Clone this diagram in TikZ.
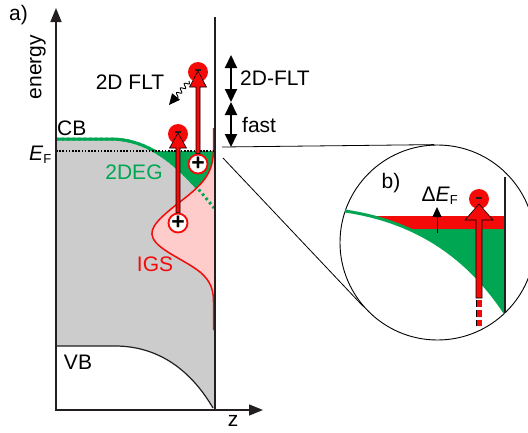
\documentclass[tikz,border=0pt]{standalone}
\usepackage{fontspec}
\setmainfont{Liberation Sans}
\usetikzlibrary{arrows.meta, calc, decorations.pathmorphing}

\definecolor{bandgray}{RGB}{204,204,204}
\definecolor{degreen}{RGB}{0,166,81}
\definecolor{igsred}{RGB}{245,10,10}
\definecolor{igspink}{RGB}{255,204,204}
\definecolor{axisgray}{RGB}{35,31,32}

% block arrow: style, from, to, half stem, half head, head length
\newcommand\exarrow[6]{%
  \draw[#1] let \p1=(#2), \p2=(#3) in
    (\x1-#4,\y1) -- (\x1-#4,\y2-#6) -- (\x1-#5,\y2-#6) -- (\x1,\y2)
    -- (\x1+#5,\y2-#6) -- (\x1+#4,\y2-#6) -- (\x1+#4,\y1) -- cycle;}

\begin{document}
\begin{tikzpicture}[x=1pt, y=-1pt,
  txt/.style={font=\fontsize{21}{24}\selectfont, inner sep=0pt},
  axis/.style={axisgray, line width=1.5pt,
               {Triangle[width=11pt,length=14pt]}-{Triangle[width=11pt,length=14pt]}},
  surf/.style={axisgray, line width=2.2pt},
  cbline/.style={degreen, line width=3pt},
  elec/.style={circle, fill=igsred, minimum size=20pt, inner sep=0pt},
  ebar/.style={fill=axisgray, minimum width=6.5pt, minimum height=1.8pt, inner sep=0pt},
  hole/.style={circle, draw=igsred, line width=1.8pt, fill=white,
               minimum size=19pt, inner sep=0pt,
               font=\fontsize{23}{23}\selectfont\bfseries},
  exc/.style={fill=igsred, draw=black, line width=0.6pt, line join=miter},
  dblarr/.style={black, line width=2pt,
                 {Triangle[width=12pt,length=13pt]}-{Triangle[width=12pt,length=13pt]}},
  wiggle/.style={black, line width=0.9pt, decorate,
                 decoration={snake, amplitude=2.2pt, segment length=6pt, post length=4pt},
                 -{Triangle[width=10pt,length=11pt]}},
  lens/.style={circle, draw=black, line width=0.9pt, fill=white,
               minimum size=195pt, inner sep=0pt},
  zoomline/.style={black, line width=0.8pt}]
  \clip (0,0) rectangle (528,432);
  % band gap region, CB on top, VB below
  \fill[bandgray] (56,139) -- (110,139) .. controls (150,139) and (180,165) .. (214,208)
    -- (215,408) -- (213,408) .. controls (192,372) and (160,346) .. (115,346)
    -- (56,346) -- cycle;
  % 2DEG below E_F
  \begin{scope}
    \clip (56,139) -- (110,139) .. controls (150,139) and (180,165) .. (214,208)
      -- (215,100) -- (56,100) -- cycle;
    \fill[degreen] (56,151) rectangle (215,240);
  \end{scope}
  \draw[cbline] (56,139) -- (110,139) .. controls (150,139) and (180,165) .. (214,208);
  % in-gap states
  \fill[igspink] (213.5,128) -- (213.5,150) .. controls (213,172) and (205,182) .. (185,198)
    .. controls (160,217) and (148,228) .. (153,238)
    .. controls (158,250) and (185,260) .. (200,272)
    .. controls (212,282) and (213.5,292) .. (213.5,302) -- (213.5,330)
    -- (215,330) -- (215,128) -- cycle;
  \draw[cbline, dash pattern=on 2.5pt off 3pt]
    (56,139) -- (110,139) .. controls (150,139) and (180,165) .. (214,208);
  \draw[igsred, line width=1.5pt] (213.5,128) -- (213.5,150)
    .. controls (213,172) and (205,182) .. (185,198)
    .. controls (160,217) and (148,228) .. (153,238)
    .. controls (158,250) and (185,260) .. (200,272)
    .. controls (212,282) and (213.5,292) .. (213.5,302) -- (213.5,330);
  \draw[axisgray, line width=1.2pt] (56,346) -- (115,346)
    .. controls (160,346) and (192,372) .. (213,408);
  \draw[black, line width=1.6pt, dash pattern=on 1.6pt off 1.6pt] (56,151) -- (215,151);
  % axes and surface
  \coordinate (etop) at (56,8);
  \coordinate (orig) at (56,410);
  \coordinate (zend) at (263,410);
  \draw[axis] (etop) -- (orig) -- (zend);
  \draw[surf] (215,17) -- (215,410);
  % excitations
  \node[elec] (e1) at (178,134) {};
  \node[elec] (e2) at (198,72) {};
  \node[hole] (h1) at (178,223) {+};
  \node[hole] (h2) at (198,164) {+};
  \exarrow{exc}{h1.north}{[yshift=1pt]e1.center}{2pt}{8.5pt}{15pt}
  \exarrow{exc}{h2.north}{[yshift=1pt]e2.center}{2pt}{8.5pt}{16pt}
  \node[ebar] (e1bar) at ([yshift=2pt]e1.center) {};
  \node[ebar] (e2bar) at ([yshift=2pt]e2.center) {};
  \coordinate (w1) at (189,81);
  \coordinate (w2) at (169,105);
  \draw[wiggle] (w1) -- (w2);
  % time scales
  \coordinate (t1) at (231,55);
  \coordinate (t2) at (231,102);
  \coordinate (t3) at (231,147);
  \draw[dblarr] (t1) -- (t2);
  \draw[dblarr] (t2) -- (t3);
  % zoom of the surface
  \node[lens] (lens) at (437.5,242.5) {};
  \coordinate (zA) at (222,147);
  \coordinate (zB) at (223,158);
  \draw[zoomline] (zA) -- (lens.92);
  \draw[zoomline] (zB) -- (lens.221);
  \begin{scope}
    \clip (345,211) .. controls (420,222) and (470,260) .. (505,313)
      -- (505,150) -- (345,150) -- cycle;
    \fill[igsred] (340,216) rectangle (505,229);
    \fill[degreen] (340,229) rectangle (505,320);
  \end{scope}
  \draw[cbline] (345,211) .. controls (420,222) and (470,260) .. (505,313);
  \draw[surf] (505,177) -- (505,313);
  \node[elec] (e3) at (479,199) {};
  \coordinate (b0) at (479,298);
  \coordinate (b1) at (479,300);
  \coordinate (b2) at (479,326);
  \exarrow{exc}{b0}{[yshift=-5pt]e3.center}{3pt}{14pt}{16pt}
  \node[ebar] (e3bar) at ([yshift=1pt]e3.center) {};
  \draw[black, line width=6.5pt, dash pattern=on 7pt off 3pt] (b1) -- (b2);
  \draw[igsred, line width=5pt, dash pattern=on 7pt off 3pt] (b1) -- (b2);
  \coordinate (d0) at (437,233);
  \coordinate (d1) at (437,207);
  \draw[black, line width=0.8pt, -{Triangle[width=9pt,length=10pt]}] (d0) -- (d1);
  % labels
  \node[txt, anchor=west] (lbla) at (9,15) {a)};
  \node[txt, rotate=90] (lblen) at (38,67) {energy};
  \node[txt] (lblz) at (233,421) {z};
  \node[txt, anchor=base west] (lblcb) at (57,135) {CB};
  \node[txt, anchor=base west] (lblef) at (29,160)
    {\textit{E}\textsubscript{\fontsize{13}{13}\selectfont F}};
  \node[txt, degreen] (lbl2deg) at (134,172) {2DEG};
  \node[txt, igsred] (lbligs) at (155,264) {IGS};
  \node[txt] (lblvb) at (78,362) {VB};
  \node[txt] (lblflt) at (130,82) {2D FLT};
  \node[txt, anchor=west] (lblflt2) at (240,78) {2D-FLT};
  \node[txt, anchor=west] (lblfast) at (242,125) {fast};
  \node[txt] (lblb) at (391,183) {b)};
  \node[txt] (lbldef) at (440,196)
    {Δ\textit{E}\textsubscript{\fontsize{13}{13}\selectfont F}};
\end{tikzpicture}
\end{document}
